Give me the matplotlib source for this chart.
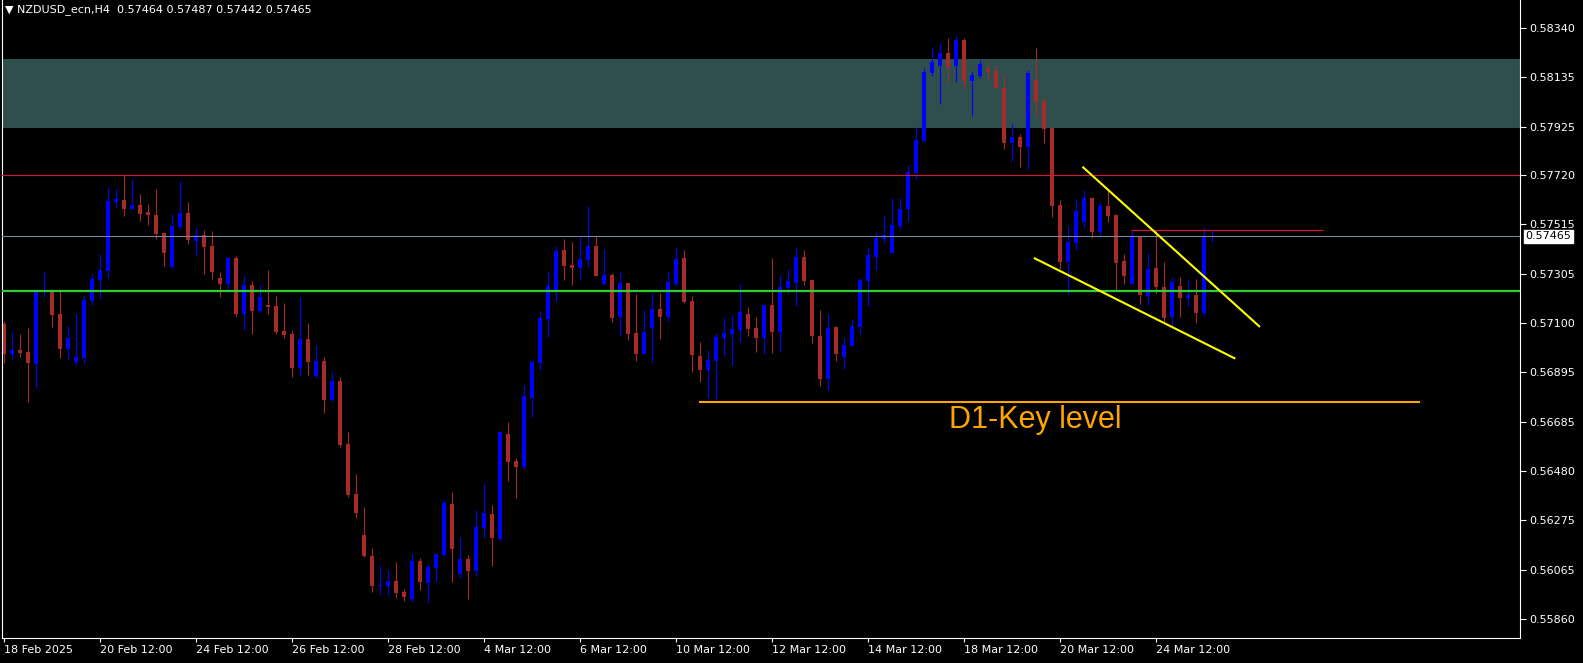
# NZDUSD H4 chart, MT4 style (black background, blue/brown candles, drawn levels)
import numpy as np
import matplotlib.pyplot as plt

# candles, 18 Feb 12:00 -> 25 Mar 16:00 (H4)
opens = [
    0.57097, 0.56972, 0.56987, 0.56979, 0.56930, 0.57232, 0.57232, 0.57139, 0.56993, 0.56938,
    0.56955, 0.57193, 0.57283, 0.57320, 0.57610, 0.57617, 0.57579, 0.57596, 0.57567, 0.57554,
    0.57479, 0.57336, 0.57504, 0.57563, 0.57445, 0.57470, 0.57424, 0.57290, 0.57265, 0.57374,
    0.57139, 0.57260, 0.57151, 0.57176, 0.57172, 0.57067, 0.57055, 0.56912, 0.57034, 0.56878,
    0.56941, 0.56778, 0.56857, 0.56593, 0.56383, 0.56211, 0.56123, 0.55998, 0.55997, 0.56018,
    0.55972, 0.55942, 0.56102, 0.56009, 0.56072, 0.56127, 0.56341, 0.56047, 0.56110, 0.56060,
    0.56240, 0.56299, 0.56194, 0.56635, 0.56521, 0.56496, 0.56786, 0.56933, 0.57118, 0.57239,
    0.57407, 0.57344, 0.57332, 0.57365, 0.57424, 0.57265, 0.57302, 0.57126, 0.57269, 0.57059,
    0.56971, 0.57080, 0.57160, 0.57126, 0.57265, 0.57374, 0.57193, 0.56962, 0.56903, 0.56941,
    0.57038, 0.57055, 0.57071, 0.57139, 0.57080, 0.57038, 0.57176, 0.57063, 0.57248, 0.57269,
    0.57378, 0.57281, 0.57046, 0.56866, 0.57084, 0.56958, 0.57004, 0.57084, 0.57277, 0.57378,
    0.57453, 0.57395, 0.57508, 0.57579, 0.57730, 0.57865, 0.58150, 0.58180, 0.58234, 0.58180,
    0.58289, 0.58117, 0.58138, 0.58167, 0.58159, 0.58087, 0.57856, 0.57882, 0.57840, 0.58121,
    0.58033, 0.57919, 0.57596, 0.57357, 0.57437, 0.57525, 0.57626, 0.57483, 0.57592, 0.57554,
    0.57361, 0.57265, 0.57462, 0.57214, 0.57332, 0.57252, 0.57126, 0.57256, 0.57206, 0.57218,
    0.57143, 0.57464]
highs = [
    0.57108, 0.57063, 0.57055, 0.57080, 0.57244, 0.57315, 0.57244, 0.57244, 0.57089, 0.57139,
    0.57214, 0.57306, 0.57390, 0.57672, 0.57663, 0.57722, 0.57705, 0.57642, 0.57600, 0.57663,
    0.57484, 0.57558, 0.57697, 0.57609, 0.57504, 0.57491, 0.57487, 0.57315, 0.57382, 0.57382,
    0.57302, 0.57277, 0.57260, 0.57323, 0.57214, 0.57185, 0.57067, 0.57210, 0.57101, 0.57008,
    0.56958, 0.56895, 0.56874, 0.56643, 0.56467, 0.56328, 0.56156, 0.56081, 0.56064, 0.56097,
    0.55984, 0.56131, 0.56114, 0.56089, 0.56135, 0.56358, 0.56391, 0.56202, 0.56127, 0.56316,
    0.56429, 0.56337, 0.56647, 0.56685, 0.56534, 0.56841, 0.56950, 0.57151, 0.57315, 0.57424,
    0.57453, 0.57441, 0.57462, 0.57592, 0.57462, 0.57411, 0.57311, 0.57315, 0.57269, 0.57223,
    0.57155, 0.57227, 0.57227, 0.57315, 0.57420, 0.57407, 0.57214, 0.57021, 0.56987, 0.57059,
    0.57122, 0.57134, 0.57265, 0.57168, 0.57126, 0.57176, 0.57374, 0.57302, 0.57327, 0.57416,
    0.57407, 0.57281, 0.57155, 0.57139, 0.57088, 0.57038, 0.57118, 0.57290, 0.57420, 0.57483,
    0.57551, 0.57626, 0.57626, 0.57764, 0.57924, 0.58171, 0.58259, 0.58276, 0.58297, 0.58310,
    0.58297, 0.58159, 0.58205, 0.58196, 0.58184, 0.58142, 0.57936, 0.57894, 0.58163, 0.58255,
    0.58045, 0.57919, 0.57617, 0.57508, 0.57621, 0.57659, 0.57630, 0.57609, 0.57659, 0.57558,
    0.57390, 0.57491, 0.57466, 0.57395, 0.57491, 0.57357, 0.57294, 0.57294, 0.57281, 0.57286,
    0.57504, 0.57487]
lows = [
    0.56934, 0.56945, 0.56959, 0.56770, 0.56829, 0.57211, 0.57085, 0.56955, 0.56951, 0.56926,
    0.56930, 0.57176, 0.57203, 0.57291, 0.57585, 0.57551, 0.57578, 0.57530, 0.57513, 0.57453,
    0.57340, 0.57327, 0.57495, 0.57432, 0.57382, 0.57306, 0.57286, 0.57210, 0.57239, 0.57130,
    0.57071, 0.57055, 0.57147, 0.57139, 0.57055, 0.57038, 0.56874, 0.56882, 0.56882, 0.56870,
    0.56723, 0.56773, 0.56580, 0.56370, 0.56282, 0.56118, 0.55972, 0.55959, 0.55959, 0.55946,
    0.55934, 0.55930, 0.55980, 0.55925, 0.56018, 0.56123, 0.56014, 0.56030, 0.55942, 0.56039,
    0.56198, 0.56081, 0.56186, 0.56438, 0.56366, 0.56488, 0.56706, 0.56903, 0.57042, 0.57193,
    0.57281, 0.57260, 0.57286, 0.57336, 0.57298, 0.57260, 0.57105, 0.57050, 0.57029, 0.56941,
    0.56971, 0.56933, 0.57034, 0.57109, 0.57256, 0.57185, 0.56895, 0.56853, 0.56786, 0.56778,
    0.56962, 0.56924, 0.57021, 0.57046, 0.56979, 0.56971, 0.56975, 0.56983, 0.57227, 0.57172,
    0.57260, 0.57017, 0.56836, 0.56820, 0.56941, 0.56908, 0.57004, 0.57055, 0.57172, 0.57323,
    0.57437, 0.57395, 0.57495, 0.57529, 0.57705, 0.57861, 0.58138, 0.58020, 0.58113, 0.58113,
    0.58083, 0.57970, 0.58129, 0.58121, 0.58083, 0.57831, 0.57781, 0.57756, 0.57747, 0.57966,
    0.57856, 0.57546, 0.57327, 0.57223, 0.57407, 0.57500, 0.57458, 0.57462, 0.57525, 0.57239,
    0.57265, 0.57265, 0.57181, 0.57176, 0.57227, 0.57105, 0.57088, 0.57126, 0.57172, 0.57101,
    0.57130, 0.57442]
closes = [
    0.56972, 0.56986, 0.56976, 0.56934, 0.57232, 0.57238, 0.57134, 0.56993, 0.57038, 0.56958,
    0.57197, 0.57286, 0.57323, 0.57613, 0.57621, 0.57579, 0.57596, 0.57560, 0.57554, 0.57476,
    0.57395, 0.57508, 0.57563, 0.57449, 0.57470, 0.57420, 0.57315, 0.57265, 0.57374, 0.57139,
    0.57260, 0.57151, 0.57210, 0.57168, 0.57063, 0.57050, 0.56912, 0.57034, 0.56937, 0.56941,
    0.56778, 0.56857, 0.56589, 0.56379, 0.56303, 0.56123, 0.55997, 0.56001, 0.56018, 0.55967,
    0.55951, 0.56102, 0.56014, 0.56076, 0.56131, 0.56345, 0.56152, 0.56110, 0.56060, 0.56244,
    0.56303, 0.56198, 0.56643, 0.56517, 0.56496, 0.56794, 0.56937, 0.57122, 0.57256, 0.57403,
    0.57340, 0.57332, 0.57369, 0.57424, 0.57298, 0.57302, 0.57122, 0.57269, 0.57055, 0.56971,
    0.57063, 0.57160, 0.57126, 0.57273, 0.57369, 0.57189, 0.56966, 0.56903, 0.56945, 0.57042,
    0.57059, 0.57076, 0.57147, 0.57076, 0.57038, 0.57176, 0.57063, 0.57252, 0.57277, 0.57378,
    0.57277, 0.57046, 0.56866, 0.57080, 0.56971, 0.57008, 0.57088, 0.57281, 0.57386, 0.57458,
    0.57470, 0.57512, 0.57579, 0.57735, 0.57869, 0.58154, 0.58196, 0.58234, 0.58175, 0.58289,
    0.58117, 0.58142, 0.58188, 0.58154, 0.58087, 0.57856, 0.57882, 0.57840, 0.58150, 0.58029,
    0.57915, 0.57592, 0.57357, 0.57441, 0.57571, 0.57626, 0.57483, 0.57592, 0.57550, 0.57353,
    0.57298, 0.57466, 0.57218, 0.57327, 0.57252, 0.57122, 0.57273, 0.57206, 0.57218, 0.57143,
    0.57466, 0.57465]

# axis labels
date_labels = ["18 Feb 2025", "20 Feb 12:00", "24 Feb 12:00", "26 Feb 12:00", "28 Feb 12:00",
               "4 Mar 12:00", "6 Mar 12:00", "10 Mar 12:00", "12 Mar 12:00", "14 Mar 12:00",
               "18 Mar 12:00", "20 Mar 12:00", "24 Mar 12:00"]
date_bars = [0, 12, 24, 36, 48, 60, 72, 84, 96, 108, 120, 132, 144]
price_ticks = [0.58340, 0.58135, 0.57925, 0.57720, 0.57515, 0.57305, 0.57100,
               0.56895, 0.56685, 0.56480, 0.56275, 0.56065, 0.55860]

# drawn objects
zone = (0.57919, 0.58211)
red_level = 0.57724
green_level = 0.57237
bid = 0.57465
key_level = 0.56771
key_span = (86.9, 177.0)
short_red = 0.57490
short_red_span = (140.9, 164.9)
upper_trend = ([134.9, 156.9], [0.57754, 0.57087])
lower_trend = ([128.85, 153.8], [0.57372, 0.56953])

W, H = 1583, 663
fig = plt.figure(figsize=(W / 100, H / 100), dpi=100, facecolor='black')
ax = fig.add_axes([2 / W, 25 / H, 1518 / W, 638 / H])
ax.set_facecolor('black')

o = np.array(opens); h = np.array(highs); l = np.array(lows); c = np.array(closes)
x = np.arange(len(o))
up = c >= o
cols = np.where(up, '#0000FF', '#A52A2A')

ax.axhspan(zone[0], zone[1], color='#2F4F4F', zorder=0, lw=0)
ax.vlines(x, l, h, colors=cols, linewidth=0.8, zorder=2)
body_lo = np.minimum(o, c)
body_h = np.maximum(np.abs(c - o), 0.00003)
ax.bar(x, body_h, bottom=body_lo, width=0.62, color=cols, linewidth=0, zorder=2)

ax.axhline(red_level, color='#DC143C', lw=0.8, zorder=3)
ax.axhline(bid, color='#778899', lw=0.8, zorder=3)
ax.axhline(green_level, color='#32CD32', lw=1.6, zorder=3)
ax.hlines(key_level, key_span[0], key_span[1], color='#FFA500', lw=1.5, zorder=3)
ax.hlines(short_red, short_red_span[0], short_red_span[1], color='#DC143C', lw=0.9, zorder=3)
ax.plot(upper_trend[0], upper_trend[1], color='#FFFF00', lw=1.5, zorder=3)
ax.plot(lower_trend[0], lower_trend[1], color='#FFFF00', lw=1.5, zorder=3)
ax.text(128.9, 0.56694, "D1-Key level", color='#FFA500', fontsize=22,
        family='Liberation Sans', ha='center', va='center', zorder=4)

ax.set_xlim(-0.25, 189.5)
ax.set_ylim(0.557784, 0.584567)

ax.yaxis.tick_right()
ax.set_yticks(price_ticks)
ax.set_yticklabels([f"{p:.5f}" for p in price_ticks])
ax.tick_params(axis='y', colors='white', labelsize=8, length=4, width=0.8, pad=3)
ax.set_xticks(date_bars)
ax.set_xticklabels(date_labels)
for t in ax.get_xticklabels():
    t.set_ha('left')
ax.tick_params(axis='x', colors='white', labelsize=8, length=3, width=0.8, pad=2)
for side in ['left', 'right', 'bottom']:
    ax.spines[side].set_color('white')
    ax.spines[side].set_linewidth(0.8)
ax.spines['top'].set_visible(False)

# current price tag on the scale
ax.annotate(f"{bid:.5f}", xy=(1.0035, bid), xycoords=('axes fraction', 'data'),
            color='black', fontsize=8, va='center', ha='left', annotation_clip=False,
            bbox=dict(boxstyle='square,pad=0.15', fc='white', ec='white'), zorder=5)

fig.text(5 / W, 1 - 10 / H, "\u25bc NZDUSD_ecn,H4  0.57464 0.57487 0.57442 0.57465",
         color='white', fontsize=8, va='center', ha='left')

fig.savefig('out.png', dpi=100, facecolor='black')
